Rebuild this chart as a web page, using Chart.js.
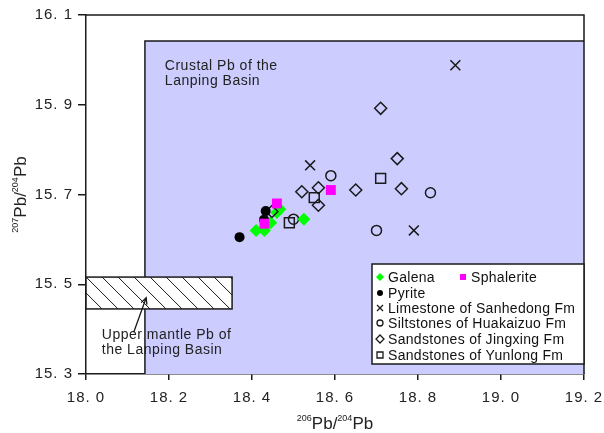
<!DOCTYPE html>
<html>
<head>
<meta charset="utf-8">
<script src="https://cdn.jsdelivr.net/npm/chart.js@4.4.1/dist/chart.umd.min.js"></script>
<style>
  html, body { margin: 0; padding: 0; background: #fff; }
  #wrap { width: 604px; height: 433px; }
</style>
</head>
<body>
<div id="wrap"><canvas id="pbChart" width="604" height="433"></canvas></div>
<script>
// Pb isotope data (206Pb/204Pb vs 207Pb/204Pb)
const galenaX = [18.41, 18.43, 18.445, 18.46, 18.467, 18.525];
const galenaY = [15.62, 15.62, 15.637, 15.66, 15.667, 15.645];
const sphaleriteX = [18.43, 18.46, 18.59];
const sphaleriteY = [15.635, 15.68, 15.71];
const pyriteX = [18.37, 18.429, 18.433];
const pyriteY = [15.605, 15.644, 15.663];
const limestoneX = [18.54, 18.79, 18.89];
const limestoneY = [15.765, 15.62, 15.988];
const siltstoneX = [18.50, 18.59, 18.70, 18.83];
const siltstoneY = [15.645, 15.742, 15.62, 15.704];
const jingxingX = [18.448, 18.52, 18.56, 18.56, 18.65, 18.71, 18.75, 18.76];
const jingxingY = [15.662, 15.706, 15.715, 15.676, 15.71, 15.892, 15.78, 15.713];
const yunlongX = [18.49, 18.55, 18.71];
const yunlongY = [15.637, 15.693, 15.736];

// axis ticks
const xTickValues = [18.0, 18.2, 18.4, 18.6, 18.8, 19.0, 19.2];
const xTickLabels = ["18. 0", "18. 2", "18. 4", "18. 6", "18. 8", "19. 0", "19. 2"];
const yTickValues = [15.3, 15.5, 15.7, 15.9, 16.1];
const yTickLabels = ["15. 3", "15. 5", "15. 7", "15. 9", "16. 1"];

// source fields
const crustalField = { x0: 18.142, x1: 19.2, y0: 15.3, y1: 16.042 };
const mantleField = { x0: 18.0, x1: 18.352, y0: 15.445, y1: 15.516 };

const INK = "#1a1a1a";
const FONT = "Liberation Sans, Arial, sans-serif";

function pts(xs, ys) {
  return xs.map((x, i) => ({ x: x, y: ys[i] }));
}

function drawSuperLabel(ctx, x, y, parts) {
  // parts: [text, isSuperscript]
  let total = 0;
  parts.forEach(p => {
    ctx.font = (p[1] ? "9px " : "17px ") + FONT;
    total += ctx.measureText(p[0]).width;
  });
  let cx = x - total / 2;
  parts.forEach(p => {
    ctx.font = (p[1] ? "9px " : "17px ") + FONT;
    ctx.fillText(p[0], cx, p[1] ? y - 8 : y);
    cx += ctx.measureText(p[0]).width;
  });
}

// marker used in the legend box
function legendMarker(ctx, style, x, y, fill) {
  ctx.save();
  ctx.lineWidth = 1.3;
  ctx.strokeStyle = INK;
  ctx.fillStyle = fill || INK;
  ctx.beginPath();
  if (style === "diamond") {
    ctx.moveTo(x, y - 4); ctx.lineTo(x + 4, y); ctx.lineTo(x, y + 4); ctx.lineTo(x - 4, y); ctx.closePath();
    fill ? ctx.fill() : ctx.stroke();
  } else if (style === "square") {
    ctx.rect(x - 3, y - 3, 6, 6);
    fill ? ctx.fill() : ctx.stroke();
  } else if (style === "circle") {
    ctx.arc(x, y, 3, 0, Math.PI * 2);
    fill ? ctx.fill() : ctx.stroke();
  } else if (style === "cross") {
    ctx.moveTo(x - 3, y - 3); ctx.lineTo(x + 3, y + 3);
    ctx.moveTo(x + 3, y - 3); ctx.lineTo(x - 3, y + 3);
    ctx.stroke();
  }
  ctx.restore();
}

// background fields, hatching and labels
const fieldsPlugin = {
  id: "fields",
  beforeDraw(chart) {
    // slightly spaced tick labels
    chart.ctx.letterSpacing = "1px";
  },
  beforeDatasetsDraw(chart) {
    const ctx = chart.ctx;
    const xs = chart.scales.x, ys = chart.scales.y;
    ctx.save();
    // crustal Pb field
    const cx0 = xs.getPixelForValue(crustalField.x0), cx1 = xs.getPixelForValue(crustalField.x1);
    const cy0 = ys.getPixelForValue(crustalField.y0), cy1 = ys.getPixelForValue(crustalField.y1);
    ctx.fillStyle = "#ccccff";
    ctx.fillRect(cx0, cy1, cx1 - cx0, cy0 - cy1);
    ctx.strokeStyle = INK;
    ctx.lineWidth = 1.5;
    ctx.beginPath();
    ctx.moveTo(cx0, cy0); ctx.lineTo(cx0, cy1); ctx.lineTo(cx1, cy1);
    ctx.stroke();

    // upper mantle field (hatched)
    const mx0 = xs.getPixelForValue(mantleField.x0), mx1 = xs.getPixelForValue(mantleField.x1);
    const my0 = ys.getPixelForValue(mantleField.y0), my1 = ys.getPixelForValue(mantleField.y1);
    ctx.fillStyle = "#fff";
    ctx.fillRect(mx0, my1, mx1 - mx0, my0 - my1);
    ctx.save();
    ctx.beginPath();
    ctx.rect(mx0, my1, mx1 - mx0, my0 - my1);
    ctx.clip();
    ctx.lineWidth = 1;
    ctx.beginPath();
    const h = my0 - my1;
    for (let sx = mx0 - h; sx < mx1 + h; sx += 16) {
      ctx.moveTo(sx, my1);
      ctx.lineTo(sx + h, my0);
    }
    ctx.stroke();
    ctx.restore();
    ctx.lineWidth = 1.5;
    ctx.strokeRect(mx0, my1, mx1 - mx0, my0 - my1);

    // labels
    ctx.fillStyle = "#222";
    ctx.font = "14px " + FONT;
    ctx.letterSpacing = "0.5px";
    ctx.textBaseline = "alphabetic";
    const lx = xs.getPixelForValue(18.19), ly = ys.getPixelForValue(15.977);
    ctx.fillText("Crustal Pb of the", lx, ly);
    ctx.fillText("Lanping Basin", lx, ly + 15);
    const ux = xs.getPixelForValue(18.038), uy = ys.getPixelForValue(15.378);
    ctx.fillText("Upper mantle Pb of", ux, uy);
    ctx.fillText("the Lanping Basin", ux, uy + 15);

    // arrow to the mantle field
    const ax0 = xs.getPixelForValue(18.115), ay0 = ys.getPixelForValue(15.393);
    const ax1 = xs.getPixelForValue(18.145), ay1 = ys.getPixelForValue(15.47);
    const ang = Math.atan2(ay1 - ay0, ax1 - ax0);
    ctx.strokeStyle = INK;
    ctx.lineWidth = 1.3;
    ctx.beginPath();
    ctx.moveTo(ax0, ay0); ctx.lineTo(ax1, ay1);
    ctx.moveTo(ax1 - 7 * Math.cos(ang - 0.45), ay1 - 7 * Math.sin(ang - 0.45));
    ctx.lineTo(ax1, ay1);
    ctx.lineTo(ax1 - 7 * Math.cos(ang + 0.45), ay1 - 7 * Math.sin(ang + 0.45));
    ctx.stroke();
    ctx.restore();
  },
  afterDraw(chart) {
    const ctx = chart.ctx;
    const a = chart.chartArea;
    ctx.save();
    // frame top and right
    ctx.strokeStyle = INK;
    ctx.lineWidth = 1.5;
    ctx.beginPath();
    ctx.moveTo(a.left, a.top); ctx.lineTo(a.right, a.top); ctx.lineTo(a.right, a.bottom);
    ctx.stroke();

    // legend box
    const bx = a.right - 212, by = a.bottom - 110, bw = 212, bh = 100;
    ctx.fillStyle = "#fff";
    ctx.fillRect(bx, by, bw, bh);
    ctx.strokeRect(bx, by, bw, bh);
    ctx.fillStyle = "#111";
    ctx.font = "14px " + FONT;
    ctx.letterSpacing = "0.3px";
    ctx.textBaseline = "middle";
    const rows = [
      ["diamond", "#00ff00", "Galena", 13],
      ["circle", "#000", "Pyrite", 29],
      ["cross", null, "Limestone of Sanhedong Fm", 44],
      ["circle", null, "Siltstones of Huakaizuo Fm", 59],
      ["diamond", null, "Sandstones of Jingxing Fm", 75],
      ["square", null, "Sandstones of Yunlong Fm", 91]
    ];
    rows.forEach(r => {
      legendMarker(ctx, r[0], bx + 8, by + r[3], r[1]);
      ctx.fillStyle = "#111";
      ctx.fillText(r[2], bx + 16, by + r[3] + 1);
    });
    legendMarker(ctx, "square", bx + 91, by + 13, "#ff00ff");
    ctx.fillStyle = "#111";
    ctx.fillText("Sphalerite", bx + 99, by + 14);

    // axis titles with superscripts
    ctx.letterSpacing = "0px";
    ctx.textBaseline = "alphabetic";
    ctx.fillStyle = "#222";
    drawSuperLabel(ctx, (a.left + a.right) / 2, 429, [["206", true], ["Pb", false], ["/", false], ["204", true], ["Pb", false]]);
    ctx.translate(26, (a.top + a.bottom) / 2);
    ctx.rotate(-Math.PI / 2);
    drawSuperLabel(ctx, 0, 0, [["207", true], ["Pb", false], ["/", false], ["204", true], ["Pb", false]]);
    ctx.restore();
  }
};

const openStyle = { backgroundColor: "rgba(0,0,0,0)", borderColor: INK, borderWidth: 1.5 };

const chart = new Chart(document.getElementById("pbChart"), {
  type: "scatter",
  data: {
    datasets: [
      { label: "Sphalerite", data: pts(sphaleriteX, sphaleriteY), pointStyle: "rect", pointRadius: 7, backgroundColor: "#ff00ff", borderColor: "#ff00ff", borderWidth: 0 },
      { label: "Pyrite", data: pts(pyriteX, pyriteY), pointStyle: "circle", pointRadius: 5, backgroundColor: "#000", borderColor: "#000", borderWidth: 0 },
      { label: "Jingxing", data: pts(jingxingX.slice(0, 1), jingxingY.slice(0, 1)), pointStyle: "rectRot", pointRadius: 6, ...openStyle },
      { label: "Galena", data: pts(galenaX, galenaY), pointStyle: "rectRot", pointRadius: 6.5, backgroundColor: "#00ff00", borderColor: "#00ff00", borderWidth: 0 },
      { label: "Limestone of Sanhedong Fm", data: pts(limestoneX, limestoneY), pointStyle: "crossRot", pointRadius: 7, ...openStyle },
      { label: "Siltstones of Huakaizuo Fm", data: pts(siltstoneX, siltstoneY), pointStyle: "circle", pointRadius: 5, ...openStyle },
      { label: "Sandstones of Jingxing Fm", data: pts(jingxingX.slice(1), jingxingY.slice(1)), pointStyle: "rectRot", pointRadius: 6, ...openStyle },
      { label: "Sandstones of Yunlong Fm", data: pts(yunlongX, yunlongY), pointStyle: "rect", pointRadius: 7, ...openStyle }
    ]
  },
  options: {
    responsive: false,
    animation: false,
    layout: { padding: { top: 15, right: 20, left: 0, bottom: 0 } },
    plugins: { legend: { display: false }, tooltip: { enabled: false } },
    elements: { point: { hoverRadius: 0 } },
    scales: {
      x: {
        type: "linear", min: 18.0, max: 19.2,
        afterBuildTicks: s => { s.ticks = xTickValues.map(v => ({ value: v })); },
        afterFit: s => { s.height = 59; s.paddingLeft = 0; s.paddingRight = 0; },
        ticks: {
          callback: (v, i) => xTickLabels[i],
          color: "#222", padding: 9, maxRotation: 0,
          font: { family: FONT, size: 15 }
        },
        grid: { drawOnChartArea: false, drawTicks: true, tickLength: 6, color: INK, lineWidth: 1.5 },
        border: { color: INK, width: 1.5 }
      },
      y: {
        type: "linear", min: 15.3, max: 16.1,
        afterBuildTicks: s => { s.ticks = yTickValues.map(v => ({ value: v })); },
        afterFit: s => { s.width = 86; s.paddingTop = 0; s.paddingBottom = 0; },
        ticks: {
          callback: (v, i) => yTickLabels[i],
          color: "#222", padding: 5,
          font: { family: FONT, size: 15 }
        },
        grid: { drawOnChartArea: false, drawTicks: true, tickLength: 8, color: INK, lineWidth: 1.5 },
        border: { color: INK, width: 1.5 }
      }
    }
  },
  plugins: [fieldsPlugin]
});
</script>
</body>
</html>
